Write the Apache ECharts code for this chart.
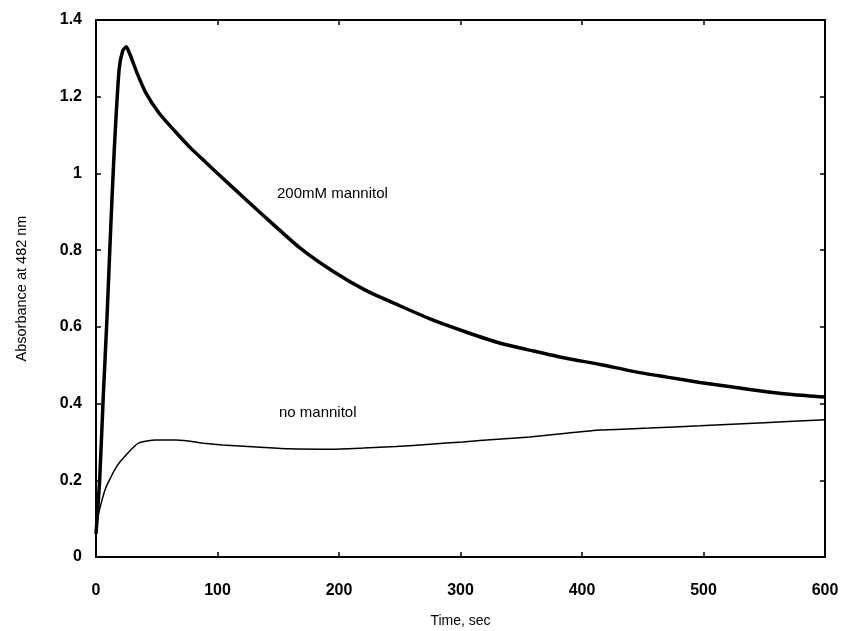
<!DOCTYPE html>
<html>
<head>
<meta charset="utf-8">
<script src="https://cdn.jsdelivr.net/npm/echarts@6/dist/echarts.min.js"></script>
<style>
  html, body { margin: 0; padding: 0; background: #fff; }
  #chart { width: 841px; height: 631px; }
</style>
</head>
<body>
<div id="chart"></div>
<script>
// values: [time sec, absorbance]
const mannitol200 = [
  [0, 0.06], [3, 0.2], [6, 0.42], [9, 0.62], [12, 0.85], [15, 1.06], [19, 1.27],
  [22, 1.32], [25, 1.33], [28, 1.31], [34, 1.26], [41, 1.21], [52, 1.157],
  [65, 1.11], [78, 1.066], [90, 1.03], [112, 0.965], [140, 0.884], [167, 0.808],
  [195, 0.745], [222, 0.695], [250, 0.655], [277, 0.618], [305, 0.586],
  [332, 0.558], [360, 0.537], [387, 0.518], [415, 0.502], [442, 0.484],
  [470, 0.469], [497, 0.455], [524, 0.443], [552, 0.431], [575, 0.423], [600, 0.417]
]
const noMannitol = [
  [0, 0.06], [2, 0.11], [5, 0.149], [8, 0.18], [11, 0.2], [15, 0.225], [19, 0.245],
  [27, 0.274], [35, 0.297], [49, 0.305], [66, 0.305], [91, 0.296], [104, 0.292],
  [132, 0.287], [159, 0.282], [192, 0.281], [220, 0.284], [247, 0.288],
  [275, 0.294], [302, 0.3], [330, 0.307], [357, 0.313], [385, 0.322],
  [415, 0.331], [455, 0.336], [497, 0.342], [550, 0.35], [600, 0.358]
]
const xTicks = { min: 0, max: 600, interval: 100 }
const yTicks = { min: 0, max: 1.4, interval: 0.2 }
const labels = [
  { text: '200mM mannitol', x: 277, y: 195 },
  { text: 'no mannitol', x: 279, y: 414 }
]

const font = 'Liberation Sans, Arial, sans-serif'
const chart = echarts.init(document.getElementById('chart'))

const axisBase = {
  axisLine: { show: true, onZero: false, lineStyle: { color: '#000', width: 2 } },
  axisTick: { show: true, inside: true, length: 5, lineStyle: { color: '#000', width: 1.5 } },
  splitLine: { show: false }
}

chart.setOption({
  animation: false,
  grid: { left: 96, right: 16, top: 20, bottom: 74, outerBoundsMode: 'none' },
  xAxis: [
    {
      type: 'value', ...xTicks, ...axisBase,
      name: 'Time, sec', nameLocation: 'middle', nameGap: 57,
      nameTextStyle: { color: '#000', fontSize: 14, fontFamily: font },
      axisLabel: { color: '#000', fontSize: 16, fontWeight: 'bold', fontFamily: font, margin: 26 }
    },
    { type: 'value', position: 'top', ...xTicks, ...axisBase, axisLabel: { show: false } }
  ],
  yAxis: [
    {
      type: 'value', ...yTicks, ...axisBase,
      name: 'Absorbance at 482 nm', nameLocation: 'middle', nameGap: 67,
      nameTextStyle: { color: '#000', fontSize: 14.5, fontFamily: font },
      axisLabel: { color: '#000', fontSize: 16, fontWeight: 'bold', fontFamily: font, margin: 14 }
    },
    { type: 'value', position: 'right', ...yTicks, ...axisBase, axisLabel: { show: false } }
  ],
  graphic: labels.map(l => ({
    type: 'text', left: l.x, top: l.y - 9,
    style: { text: l.text, fill: '#000', font: '15px ' + font }
  })),
  series: [
    {
      type: 'line', data: mannitol200, showSymbol: false, smooth: 0.2,
      lineStyle: { color: '#000', width: 3.5 }
    },
    {
      type: 'line', data: noMannitol, showSymbol: false, smooth: 0.2,
      lineStyle: { color: '#000', width: 1.5 }
    }
  ]
})

window.addEventListener('resize', () => chart.resize())
</script>
</body>
</html>
